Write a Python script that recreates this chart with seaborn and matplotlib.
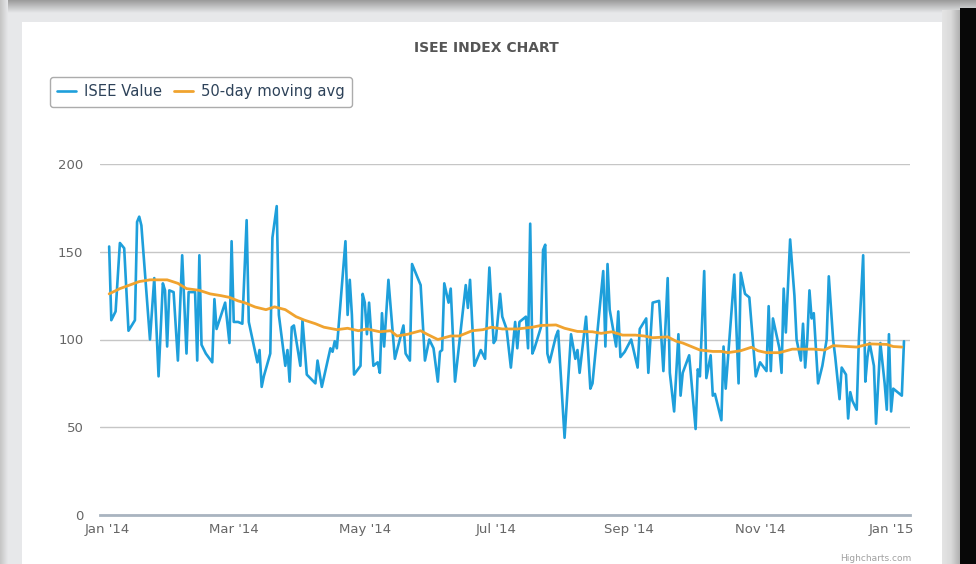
import numpy as np
import pandas as pd
import matplotlib
matplotlib.use("Agg")
import matplotlib.pyplot as plt
from matplotlib.patches import Rectangle
import seaborn as sns

# ---------------- data ----------------
# day offsets from 2014-01-01 and ISEE index values
isee_day = [1, 2, 4, 6, 8, 10, 13, 14, 15, 16, 20, 22, 24, 26, 27, 28, 29, 31, 33, 35,
            37, 38, 41, 42, 43, 44, 46, 49, 50, 51, 55, 57, 58, 59, 61, 63, 65, 66, 70, 71,
            72, 73, 76, 77, 79, 80, 83, 84, 85, 86, 87, 90, 91, 93, 97, 98, 100, 104, 105, 106,
            107, 111, 112, 113, 114, 115, 118, 119, 120, 121, 122, 124, 126, 127, 128, 129, 131, 134, 138, 139,
            141, 142, 146, 148, 150, 152, 154, 155, 156, 157, 159, 160, 162, 167, 168, 169, 171, 174, 176, 178,
            180, 181, 183, 184, 186, 188, 190, 191, 192, 195, 196, 197, 198, 199, 202, 203, 204, 205, 206, 209,
            210, 213, 216, 218, 219, 220, 223, 225, 226, 231, 232, 233, 234, 237, 238, 239, 241, 244, 247, 248,
            250, 251, 252, 254, 257, 259, 261, 262, 264, 266, 267, 268, 271, 274, 275, 276, 278, 279, 281, 282,
            283, 286, 287, 288, 292, 294, 295, 297, 299, 302, 304, 307, 308, 309, 310, 313, 314, 315, 316, 318,
            320, 321, 323, 324, 325, 326, 327, 328, 329, 331, 333, 335, 336, 338, 339, 341, 342, 344, 345, 346,
            347, 349, 350, 352, 353, 354, 355, 357, 358, 359, 360, 362, 363, 364, 365, 366, 368, 370, 371]
isee_value = [153, 111, 116, 155, 152, 105, 111, 167, 170, 165, 100, 135, 79, 132, 128, 96, 128, 127, 88, 148,
              92, 127, 127, 88, 148, 97, 92, 87, 123, 106, 121, 98, 156, 110, 110, 109, 168, 110, 87, 94,
              73, 79, 92, 158, 176, 114, 85, 94, 76, 107, 108, 85, 111, 80, 75, 88, 73, 95, 93, 99,
              95, 156, 114, 134, 114, 80, 85, 126, 121, 103, 121, 85, 87, 81, 115, 96, 134, 89, 108, 92,
              88, 143, 131, 88, 100, 95, 76, 93, 94, 132, 121, 129, 76, 131, 118, 134, 85, 94, 89, 141,
              98, 100, 126, 113, 106, 84, 110, 95, 110, 113, 95, 166, 92, 95, 107, 151, 154, 92, 87, 102,
              105, 44, 103, 89, 94, 81, 113, 72, 75, 139, 96, 143, 117, 96, 116, 90, 93, 100, 84, 106,
              110, 112, 81, 121, 122, 82, 135, 81, 59, 103, 68, 81, 91, 49, 83, 79, 139, 78, 91, 68,
              69, 54, 96, 72, 137, 75, 138, 126, 124, 79, 87, 82, 119, 82, 112, 95, 81, 129, 104, 157,
              125, 100, 88, 109, 84, 100, 128, 112, 115, 75, 85, 100, 136, 100, 90, 66, 84, 80, 55, 70,
              65, 60, 100, 148, 76, 90, 98, 85, 52, 75, 98, 75, 60, 103, 59, 72, 70, 68, 99]

# 50-day moving average
ma_day = [1, 6, 15, 20, 28, 33, 37, 43, 48, 53, 57, 61, 64, 69, 74, 78, 83, 88, 92, 97,
          101, 107, 112, 117, 121, 127, 132, 135, 140, 146, 149, 154, 160, 164, 170, 175, 179, 184, 191, 198,
          202, 209, 213, 219, 226, 230, 235, 240, 246, 250, 254, 261, 265, 268, 271, 276, 282, 286, 289, 295,
          300, 303, 307, 313, 319, 329, 334, 338, 349, 355, 363, 366, 370]
ma_value = [126, 129, 133, 134, 134, 132, 129, 128, 126, 125, 124, 122, 121, 118.5, 117, 118.6, 117, 113, 111, 109,
            107, 105.6, 106.4, 105, 106, 104.4, 105, 102, 103, 105, 103, 100, 102, 102, 105, 105.6, 107, 106, 106, 107,
            108, 108.3, 106.4, 104.6, 104.4, 103.5, 104.4, 102.5, 102.5, 102, 101, 101.5, 99, 98, 96.5, 94, 93.2, 93.2, 92.5, 93.6,
            95.6, 93.6, 92.5, 92.5, 94.5, 94.5, 94, 96.5, 95.7, 97.5, 97.2, 96, 95.7]

y_ticks = [0, 50, 100, 150, 200]
x_tick_dates = ["2014-01-01", "2014-03-01", "2014-05-01", "2014-07-01",
                "2014-09-01", "2014-11-01", "2015-01-01"]
x_tick_labels = ["Jan '14", "Mar '14", "May '14", "Jul '14", "Sep '14", "Nov '14", "Jan '15"]
series_names = ["ISEE Value", "50-day moving avg"]
title = "ISEE INDEX CHART"
credit = "Highcharts.com"

# ---------------- build frames ----------------
base = pd.Timestamp("2014-01-01")
df_isee = pd.DataFrame({"date": base + pd.to_timedelta(isee_day, unit="D"), "value": isee_value})
df_ma = pd.DataFrame({"date": base + pd.to_timedelta(ma_day, unit="D"), "value": ma_value})

sns.set_theme(style="white")
plt.rcParams["font.family"] = ["DejaVu Sans"]

W, H = 976, 564
fig = plt.figure(figsize=(W / 100, H / 100), dpi=100)

# ---------------- screenshot frame decoration ----------------
LSC = matplotlib.colors.LinearSegmentedColormap
bg = fig.add_axes([0, 0, 1, 1], zorder=-10)
bg.set_xlim(0, W)
bg.set_ylim(H, 0)
bg.axis("off")
bg.add_patch(Rectangle((0, 0), W, H, facecolor="#e7e8ea", edgecolor="none"))
top_grad = np.linspace(0, 1, 64).reshape(-1, 1)
bg.imshow(top_grad, extent=(0, W, 13, 0), cmap=LSC.from_list("t", ["#9a9a9a", "#e7e8ea"]),
          aspect="auto", zorder=1)
left_grad = np.linspace(0, 1, 64).reshape(1, -1)
bg.imshow(left_grad, extent=(0, 8, H, 0), cmap=LSC.from_list("l", ["#c4c4c4", "#e7e8ea"]),
          aspect="auto", zorder=1)
bg.add_patch(Rectangle((22, 22), 942 - 22, H - 22, facecolor="white", edgecolor="none", zorder=2))
right_grad = np.linspace(0, 1, 64).reshape(1, -1)
bg.imshow(right_grad, extent=(942, 960, H, 10), cmap=LSC.from_list("r", ["#e4e4e4", "#dadada", "#b0b0b0"]),
          aspect="auto", zorder=2)
bg.add_patch(Rectangle((960, 8), 16, H - 8, facecolor="#080808", edgecolor="none", zorder=3))
bg.text(876, 563, credit, fontsize=6.5, color="#a0a0a0", ha="center", va="bottom", zorder=4)

# ---------------- main chart ----------------
ax = fig.add_axes([100 / W, (H - 515) / H, 810 / W, 351 / H])
ax.set_facecolor("none")

sns.lineplot(data=df_isee, x="date", y="value", ax=ax, color="#1e9fdb",
             linewidth=1.9, label=series_names[0], zorder=3)
sns.lineplot(data=df_ma, x="date", y="value", ax=ax, color="#f0a32f",
             linewidth=2.0, label=series_names[1], zorder=4)

x0 = base + pd.Timedelta(days=-3.26)
x1 = base + pd.Timedelta(days=373.8)
ax.set_xlim(x0, x1)
ax.set_ylim(0, 200)

ax.set_yticks(y_ticks)
ax.set_yticklabels([str(v) for v in y_ticks])
ax.yaxis.grid(True, color="#c6c6c6", linewidth=1)
ax.xaxis.grid(False)

ax.set_xticks(pd.to_datetime(x_tick_dates))
ax.set_xticklabels(x_tick_labels)

for s in ["top", "right", "left"]:
    ax.spines[s].set_visible(False)
ax.spines["bottom"].set_color("#a9b4c0")
ax.spines["bottom"].set_linewidth(2)

ax.tick_params(axis="y", length=0, pad=12, labelsize=9.5, labelcolor="#666666")
ax.tick_params(axis="x", length=5, width=1, color="#c0d0e0", direction="inout",
               pad=3, labelsize=9.5, labelcolor="#666666")
ax.set_xlabel("")
ax.set_ylabel("")

# legend
leg = ax.legend(loc="upper left", bbox_to_anchor=(50 / W, 1 - 77 / H),
                bbox_transform=fig.transFigure, ncol=2, frameon=True, fancybox=True,
                fontsize=10.6, handlelength=1.25, handletextpad=0.55, columnspacing=0.85,
                borderpad=0.5, borderaxespad=0)
frame = leg.get_frame()
frame.set_edgecolor("#979797")
frame.set_linewidth(1)
frame.set_facecolor("white")
for t in leg.get_texts():
    t.set_color("#2d4259")

fig.text(486 / W, 1 - 48 / H, title, ha="center", va="center", fontsize=10,
         fontweight="bold", color="#555555")

fig.savefig("out.png", dpi=100)
